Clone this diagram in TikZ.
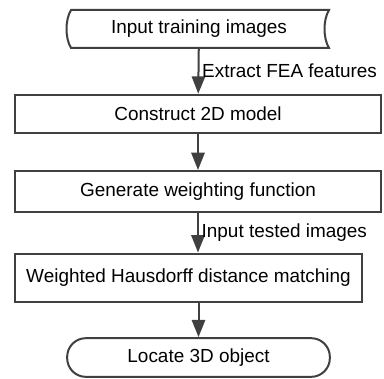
\documentclass[tikz,border=0pt]{standalone}
\usepackage{fontspec}
\setmainfont{Liberation Sans}
\usetikzlibrary{arrows.meta}
\definecolor{linegray}{RGB}{64,64,64}

\begin{document}
\begin{tikzpicture}[x=0.75pt,y=0.75pt,yscale=-1,xscale=1,
    every node/.style={font=\fontsize{14.2}{17}\selectfont},
    box/.style={draw=linegray,line width=1.5pt,minimum height=29pt,inner sep=0pt},
    flow/.style={draw=linegray,line width=1.5pt,-{Triangle[length=13pt,width=10pt]}}]
    %set diagram size to the reference
    \useasboundingbox (0,0) rectangle (384,378);

    %Shape: Stored Data
    \draw [linegray,line width=1.5pt] (71,10) -- (329,10) .. controls (323,20) and (323,38) .. (329,48) -- (71,48) .. controls (65,38) and (65,20) .. (71,10) -- cycle ;
    % Text Node
    \node [minimum width=193pt,minimum height=28.5pt,inner sep=0pt] (train) at (199,29) {Input training images};

    % Process boxes
    \node [box,minimum width=274.5pt] (model) at (198,114) {Construct 2D model};
    \node [box,minimum width=274.5pt,minimum height=30.75pt] (weight) at (198,191.5) {Generate weighting function};
    \node [box,minimum width=260pt,minimum height=36pt] (match) at (188.5,277.5) {Weighted Hausdorff distance matching};

    % Terminal
    \node [box,minimum width=197pt,rounded corners=14pt] (locate) at (198.5,357.5) {Locate 3D object};

    % Flow lines
    \draw [flow] (train) -- node [right,inner sep=2pt] (fea) {Extract FEA features} (model);
    \draw [flow] (model) -- (weight);
    \draw [flow] (weight) -- node [right,inner sep=2pt] (tested) {Input tested images} (weight |- match.north);
    \draw [flow] (match.south -| locate) -- (locate);

\end{tikzpicture}
\end{document}
